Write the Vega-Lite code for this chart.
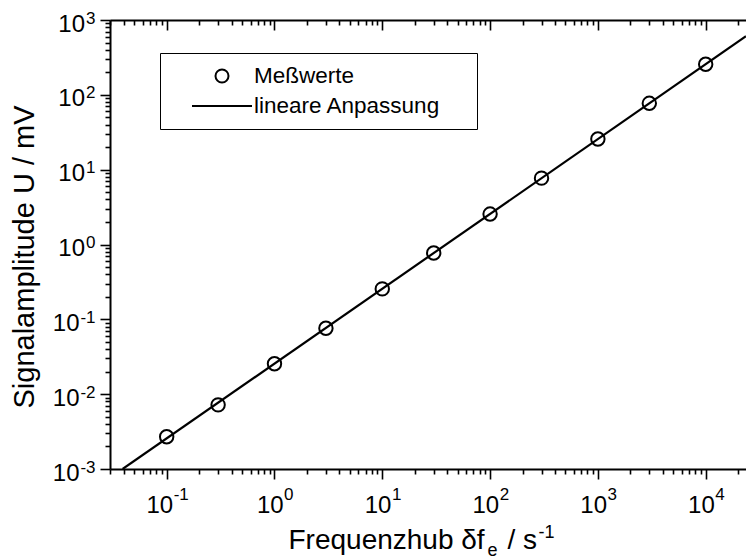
{
  "$schema": "https://vega.github.io/schema/vega-lite/v6.json",
  "width": 636,
  "height": 449,
  "autosize": {"type": "none"},
  "padding": {"left": 110, "top": 20, "right": 0, "bottom": 90},
  "background": "white",
  "config": {"view": {"stroke": null}, "font": "Liberation Sans"},
  "datasets": {
    "messwerte": [
      {"f": 0.1, "U": 0.0027},
      {"f": 0.3, "U": 0.0072},
      {"f": 1, "U": 0.0255},
      {"f": 3, "U": 0.076},
      {"f": 10, "U": 0.255},
      {"f": 30, "U": 0.77},
      {"f": 100, "U": 2.55},
      {"f": 300, "U": 7.7},
      {"f": 1000, "U": 25.7},
      {"f": 3000, "U": 77},
      {"f": 10000, "U": 256}
    ],
    "anpassung": [
      {"f": 0.039, "U": 0.001},
      {"f": 23660, "U": 606}
    ]
  },
  "resolve": {"axis": {"x": "independent", "y": "independent"}},
  "layer": [
    {
      "data": {"name": "messwerte"},
      "mark": {"type": "point", "shape": "circle", "filled": false, "size": 180, "strokeWidth": 2, "opacity": 1, "color": "black"},
      "encoding": {
        "x": {
          "field": "f", "type": "quantitative",
          "scale": {"type": "log", "domain": [0.0298, 23660], "nice": false},
          "axis": {
            "orient": "bottom",
            "values": [0.03,0.04,0.05,0.06,0.07,0.08,0.09,0.1,0.2,0.3,0.4,0.5,0.6,0.7,0.8,0.9,1,2,3,4,5,6,7,8,9,10,20,30,40,50,60,70,80,90,100,200,300,400,500,600,700,800,900,1000,2000,3000,4000,5000,6000,7000,8000,9000,10000,20000],
            "grid": false,
            "domainColor": "black", "domainWidth": 2,
            "tickColor": "black", "tickWidth": 1.6,
            "tickSize": {"condition": {"test": "abs(log(datum.value)/LN10 - round(log(datum.value)/LN10)) < 1e-6", "value": 10}, "value": 5},
            "labelExpr": "abs(log(datum.value)/LN10 - round(log(datum.value)/LN10)) < 1e-6 ? '10' : ''",
            "labelFont": "Liberation Sans", "labelFontSize": 24, "labelColor": "black",
            "labelAlign": "right", "labelBaseline": "middle",
            "labelOffset": {"condition": {"test": "datum.value < 1", "value": 6}, "value": 8.6},
            "labelPadding": 26,
            "labelOverlap": false, "labelFlush": false,
            "title": "Frequenzhub δf",
            "titleFont": "Liberation Sans", "titleFontSize": 28, "titleFontWeight": "normal", "titleColor": "black",
            "titleX": 178, "titleY": 79, "titleAlign": "left", "titleBaseline": "alphabetic", "titleAngle": 0
          }
        },
        "y": {
          "field": "U", "type": "quantitative",
          "scale": {"type": "log", "domain": [0.001, 1000], "nice": false},
          "axis": {
            "orient": "left",
            "values": [0.001,0.002,0.003,0.004,0.005,0.006,0.007,0.008,0.009,0.01,0.02,0.03,0.04,0.05,0.06,0.07,0.08,0.09,0.1,0.2,0.3,0.4,0.5,0.6,0.7,0.8,0.9,1,2,3,4,5,6,7,8,9,10,20,30,40,50,60,70,80,90,100,200,300,400,500,600,700,800,900,1000],
            "grid": false,
            "domainColor": "black", "domainWidth": 2,
            "tickColor": "black", "tickWidth": 1.6,
            "tickSize": {"condition": {"test": "abs(log(datum.value)/LN10 - round(log(datum.value)/LN10)) < 1e-6", "value": 10}, "value": 5},
            "labelExpr": "abs(log(datum.value)/LN10 - round(log(datum.value)/LN10)) < 1e-6 ? '10' : ''",
            "labelFont": "Liberation Sans", "labelFontSize": 24, "labelColor": "black",
            "labelAlign": "right", "labelBaseline": "middle",
            "labelOffset": 4,
            "labelPadding": {"condition": {"test": "datum.value < 1", "value": 21}, "value": 15.5},
            "labelOverlap": false, "labelFlush": false,
            "title": "Signalamplitude U / mV",
            "titleFont": "Liberation Sans", "titleFontSize": 29, "titleFontWeight": "normal", "titleColor": "black",
            "titleX": -77, "titleY": 236.5, "titleAngle": -90, "titleAlign": "center", "titleBaseline": "alphabetic"
          }
        }
      }
    },
    {
      "data": {"name": "anpassung"},
      "mark": {"type": "line", "strokeWidth": 2.2, "clip": true, "color": "black"},
      "encoding": {
        "x": {
          "field": "f", "type": "quantitative",
          "scale": {"type": "log", "domain": [0.0298, 23660], "nice": false},
          "axis": {
            "orient": "bottom",
            "values": [0.1, 1, 10, 100, 1000, 10000],
            "grid": false, "ticks": false, "domain": false,
            "labelExpr": "'' + round(log(datum.value)/LN10)",
            "labelFont": "Liberation Sans", "labelFontSize": 17, "labelColor": "black",
            "labelAlign": "left", "labelBaseline": "middle",
            "labelOffset": {"condition": {"test": "datum.value < 1", "value": 6.5}, "value": 9.1},
            "labelPadding": 25,
            "labelOverlap": false, "labelFlush": false,
            "title": "e",
            "titleFont": "Liberation Sans", "titleFontSize": 18, "titleFontWeight": "normal", "titleColor": "black",
            "titleX": 377, "titleY": 86, "titleAlign": "left", "titleBaseline": "alphabetic", "titleAngle": 0
          }
        },
        "y": {
          "field": "U", "type": "quantitative",
          "scale": {"type": "log", "domain": [0.001, 1000], "nice": false},
          "axis": {
            "orient": "left",
            "values": [0.001, 0.01, 0.1, 1, 10, 100, 1000],
            "grid": false, "ticks": false, "domain": false,
            "labelExpr": "'' + round(log(datum.value)/LN10)",
            "labelFont": "Liberation Sans", "labelFontSize": 17, "labelColor": "black",
            "labelAlign": "right", "labelBaseline": "middle",
            "labelOffset": -2, "labelPadding": 15,
            "labelOverlap": false, "labelFlush": false,
            "title": null
          }
        }
      }
    },
    {
      "data": {"name": "messwerte"},
      "mark": {"type": "point", "opacity": 0, "filled": false, "color": "black"},
      "encoding": {
        "x": {
          "field": "f", "type": "quantitative",
          "scale": {"type": "log", "domain": [0.0298, 23660], "nice": false},
          "axis": {
            "orient": "top",
            "values": [0.03,0.04,0.05,0.06,0.07,0.08,0.09,0.1,0.2,0.3,0.4,0.5,0.6,0.7,0.8,0.9,1,2,3,4,5,6,7,8,9,10,20,30,40,50,60,70,80,90,100,200,300,400,500,600,700,800,900,1000,2000,3000,4000,5000,6000,7000,8000,9000,10000,20000],
            "grid": false, "labels": false,
            "domainColor": "black", "domainWidth": 2,
            "tickColor": "black", "tickWidth": 1.6,
            "tickSize": {"condition": {"test": "abs(log(datum.value)/LN10 - round(log(datum.value)/LN10)) < 1e-6", "value": -10}, "value": -5},
            "title": "/ s",
            "titleFont": "Liberation Sans", "titleFontSize": 28, "titleFontWeight": "normal", "titleColor": "black",
            "titleX": 397, "titleY": 528, "titleAlign": "left", "titleBaseline": "alphabetic", "titleAngle": 0
          }
        },
        "y": {"field": "U", "type": "quantitative", "scale": {"type": "log", "domain": [0.001, 1000], "nice": false}, "axis": null},
        "shape": {
          "datum": "Meßwerte", "type": "nominal",
          "scale": {
            "domain": ["Meßwerte", "lineare Anpassung"],
            "range": ["M0.591,0A0.591,0.591,0,1,1,-0.591,0A0.591,0.591,0,1,1,0.591,0Z", "M-2.727,0H2.727"]
          },
          "legend": {
            "orient": "none", "legendX": 50, "legendY": 33, "direction": "vertical",
            "title": null,
            "fillColor": "white", "strokeColor": "black", "padding": 11,
            "labelFont": "Liberation Sans", "labelFontSize": 22.5, "labelColor": "black",
            "labelOffset": 20, "labelLimit": 0,
            "labelExpr": "datum.label + '\u00a0\u00a0\u00a0\u00a0\u200b'",
            "symbolSize": 484, "symbolOffset": 39,
            "symbolStrokeWidth": 2, "symbolStrokeColor": "black", "symbolFillColor": "transparent", "symbolOpacity": 1,
            "rowPadding": 6
          }
        }
      }
    },
    {
      "data": {"name": "messwerte"},
      "mark": {"type": "point", "opacity": 0, "filled": false, "color": "black"},
      "encoding": {
        "x": {
          "field": "f", "type": "quantitative",
          "scale": {"type": "log", "domain": [0.0298, 23660], "nice": false},
          "axis": {
            "orient": "bottom",
            "grid": false, "labels": false, "ticks": false, "domain": false,
            "title": "-1",
            "titleFont": "Liberation Sans", "titleFontSize": 18, "titleFontWeight": "normal", "titleColor": "black",
            "titleX": 428, "titleY": 68, "titleAlign": "left", "titleBaseline": "alphabetic", "titleAngle": 0
          }
        },
        "y": {"field": "U", "type": "quantitative", "scale": {"type": "log", "domain": [0.001, 1000], "nice": false}, "axis": null},
        "shape": {"datum": "lineare Anpassung", "type": "nominal"}
      }
    }
  ]
}
